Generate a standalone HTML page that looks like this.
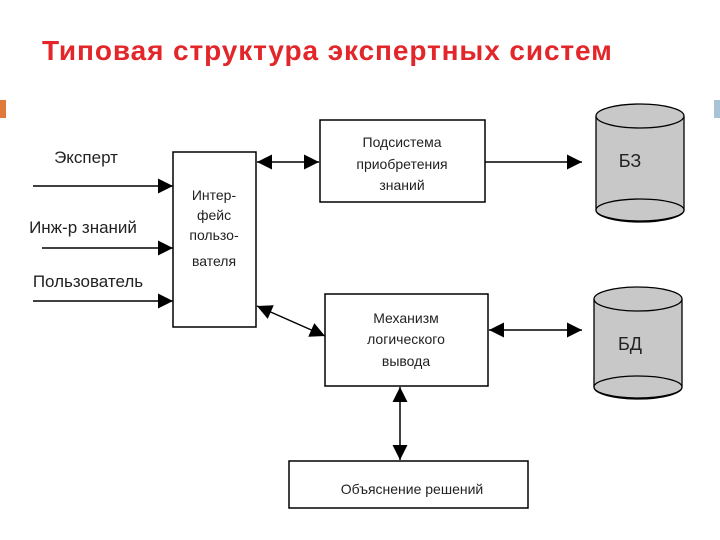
<!DOCTYPE html>
<html><head><meta charset="utf-8"><style>
body{margin:0;width:720px;height:540px;background:#fff;overflow:hidden;position:relative;font-family:"Liberation Sans",sans-serif}
h1{position:absolute;left:42px;top:35px;margin:0;font-size:28px;font-weight:bold;color:#e2262a;letter-spacing:0.9px}
</style></head><body>
<h1>Типовая структура экспертных систем</h1>
<div style="position:absolute;left:0;top:100px;width:6px;height:18px;background:#e07a3a"></div>
<div style="position:absolute;left:714px;top:100px;width:6px;height:18px;background:#a9c3d6"></div>
<svg width="720" height="540" style="position:absolute;left:0;top:0" font-family="Liberation Sans, sans-serif">
<defs>
<marker id="a" viewBox="0 0 10 10" refX="10" refY="5" markerWidth="12" markerHeight="10" orient="auto-start-reverse" markerUnits="strokeWidth"><path d="M0,0L10,5L0,10z" fill="#000"/></marker>
</defs>
<g stroke="#000" stroke-width="1.5" fill="none">
<rect x="173" y="152" width="83" height="175" fill="#fff"/>
<rect x="320" y="120" width="165" height="82" fill="#fff"/>
<rect x="325" y="294" width="163" height="92" fill="#fff"/>
<rect x="289" y="461" width="239" height="47" fill="#fff"/>
<line x1="33" y1="186" x2="173" y2="186" marker-end="url(#a)"/>
<line x1="42" y1="248" x2="173" y2="248" marker-end="url(#a)"/>
<line x1="33" y1="301" x2="173" y2="301" marker-end="url(#a)"/>
<line x1="257" y1="162" x2="319" y2="162" marker-start="url(#a)" marker-end="url(#a)"/>
<line x1="485" y1="162" x2="582" y2="162" marker-end="url(#a)"/>
<line x1="489" y1="330" x2="582" y2="330" marker-start="url(#a)" marker-end="url(#a)"/>
<line x1="257" y1="306" x2="325" y2="336" marker-start="url(#a)" marker-end="url(#a)"/>
<line x1="400" y1="387" x2="400" y2="460" marker-start="url(#a)" marker-end="url(#a)"/>
</g>
<g stroke="#000" stroke-width="1.3" fill="#c8c8c8">
<path d="M596,116 V210 A44,12 0 0 0 684,210 V116"/>
<ellipse cx="640" cy="116" rx="44" ry="12"/>
<ellipse cx="640" cy="210" rx="44" ry="11"/>
<path d="M594,299 V387 A44,12 0 0 0 682,387 V299"/>
<ellipse cx="638" cy="299" rx="44" ry="12"/>
<ellipse cx="638" cy="387" rx="44" ry="11"/>
</g>
<g font-size="14" fill="#222" text-anchor="middle">
<text x="86" y="163" font-size="17">Эксперт</text>
<text x="83" y="233" font-size="17">Инж-р знаний</text>
<text x="88" y="287" font-size="17">Пользователь</text>
<text x="214" y="200">Интер-</text>
<text x="214" y="220">фейс</text>
<text x="214" y="240">пользо-</text>
<text x="214" y="266">вателя</text>
<text x="402" y="147">Подсистема</text>
<text x="402" y="169">приобретения</text>
<text x="402" y="190">знаний</text>
<text x="406" y="323">Механизм</text>
<text x="406" y="344">логического</text>
<text x="406" y="366">вывода</text>
<text x="412" y="494">Объяснение решений</text>
<text x="630" y="167" font-size="18">БЗ</text>
<text x="630" y="350" font-size="18">БД</text>
</g>
</svg>
</body></html>
